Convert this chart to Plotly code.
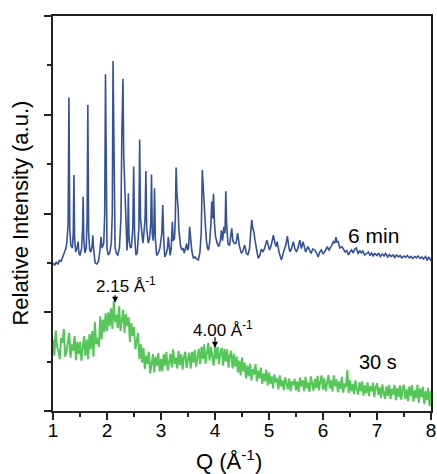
import numpy as np
import plotly.graph_objects as go

# ---- 6 min pattern (blue) : Q, intensity (offset) ----
blue_q = [1.00, 1.03, 1.06, 1.09, 1.12, 1.15, 1.18, 1.21, 1.24, 1.26, 1.28, 1.295, 1.31, 1.33, 1.36,
          1.375, 1.388, 1.40, 1.42, 1.445, 1.465, 1.48, 1.50, 1.53, 1.548, 1.558, 1.57, 1.59, 1.615,
          1.632, 1.645, 1.66, 1.68, 1.70, 1.725, 1.737, 1.75, 1.78, 1.81, 1.84, 1.87, 1.89, 1.91,
          1.94, 1.958, 1.972, 1.985, 2.00, 2.02, 2.05, 2.08, 2.098, 2.112, 2.125, 2.135, 2.15, 2.18,
          2.20, 2.23, 2.258, 2.275, 2.296, 2.31, 2.325, 2.34, 2.355, 2.37, 2.385, 2.395, 2.408,
          2.425, 2.45, 2.478, 2.494, 2.51, 2.535, 2.56, 2.59, 2.605, 2.62, 2.645, 2.665, 2.68, 2.705,
          2.72, 2.735, 2.765, 2.79, 2.81, 2.824, 2.838, 2.855, 2.868, 2.88, 2.895, 2.92, 2.95, 2.98,
          3.015, 3.032, 3.05, 3.07, 3.10, 3.12, 3.135, 3.15, 3.17, 3.19, 3.21, 3.225, 3.25, 3.265,
          3.28, 3.295, 3.315, 3.33, 3.36, 3.385, 3.41, 3.43, 3.455, 3.475, 3.49, 3.51, 3.53, 3.545,
          3.57, 3.60, 3.63, 3.66, 3.69, 3.72, 3.745, 3.765, 3.78, 3.80, 3.82, 3.84, 3.86, 3.88, 3.90,
          3.925, 3.94, 3.955, 3.972, 3.99, 4.01, 4.04, 4.07, 4.10, 4.12, 4.14, 4.165, 4.185, 4.20,
          4.215, 4.24, 4.27, 4.29, 4.31, 4.33, 4.36, 4.39, 4.42, 4.45, 4.49, 4.52, 4.55, 4.58, 4.61,
          4.64, 4.66, 4.68, 4.70, 4.72, 4.74, 4.77, 4.80, 4.83, 4.86, 4.89, 4.92, 4.96, 4.99, 5.01,
          5.04, 5.08, 5.11, 5.13, 5.15, 5.19, 5.23, 5.26, 5.28, 5.31, 5.34, 5.37, 5.39, 5.42, 5.45,
          5.48, 5.51, 5.54, 5.57, 5.60, 5.63, 5.66, 5.68, 5.72, 5.75, 5.78, 5.81, 5.85, 5.88, 5.91,
          5.94, 5.97, 6.00, 6.04, 6.08, 6.11, 6.13, 6.16, 6.19, 6.22, 6.24, 6.26, 6.28, 6.31, 6.35,
          6.38, 6.41, 6.44, 6.47, 6.50, 6.53, 6.56, 6.59, 6.62, 6.65, 6.68, 6.71, 6.74, 6.77, 6.81,
          6.84, 6.87, 6.90, 6.93, 6.96, 7.00, 7.03, 7.06, 7.10, 7.13, 7.16, 7.20, 7.23, 7.26, 7.30,
          7.33, 7.36, 7.40, 7.43, 7.46, 7.50, 7.53, 7.56, 7.60, 7.63, 7.66, 7.70, 7.73, 7.76, 7.80,
          7.83, 7.86, 7.90, 7.93, 7.96, 8.00]
blue_i = [3.00, 2.95, 3.02, 2.97, 3.05, 3.03, 3.12, 3.20, 3.30, 3.45, 3.80, 6.35, 3.70, 3.35, 3.30,
          3.60, 4.78, 3.50, 3.22, 3.30, 3.43, 3.20, 3.15, 3.30, 3.70, 4.34, 3.50, 3.20, 3.30,
          3.90, 6.20, 3.60, 3.26, 3.22, 3.35, 3.56, 3.30, 3.00, 2.98, 3.02, 3.25, 3.53, 3.30,
          3.40, 4.00, 6.82, 4.20, 3.30, 3.16, 3.20, 3.40, 4.00, 7.09, 5.18, 4.20, 3.30, 3.18,
          3.16, 3.30, 3.90, 5.60, 6.73, 5.18, 4.60, 4.37, 3.40, 3.25, 3.60, 4.41, 3.50,
          3.33, 3.30, 3.70, 4.95, 3.60, 3.16, 3.20, 3.70, 5.50, 3.90, 3.56, 3.40, 3.55, 3.90,
          4.86, 3.70, 3.40, 3.50, 3.80, 4.79, 3.60, 3.45, 3.70, 4.51, 3.50, 3.15, 3.20, 3.30,
          3.60, 4.17, 3.50, 3.12, 3.20, 3.30, 3.53, 3.30, 3.15, 3.30, 3.83, 3.45, 3.50, 3.90,
          4.93, 4.40, 4.14, 3.70, 3.35, 3.26, 3.30, 3.20, 3.30, 3.39, 3.25, 3.30, 3.73, 3.55,
          3.25, 3.09, 3.12, 3.08, 3.06, 3.20, 3.60, 4.88, 4.50, 4.27, 3.80, 3.46, 3.30, 3.26, 3.40,
          3.80, 4.24, 3.90, 4.40, 3.80, 3.53, 3.40, 3.33, 3.45, 3.66, 3.45, 3.73, 3.60, 4.45,
          3.80, 3.39, 3.35, 3.50, 3.70, 3.45, 3.39, 3.40, 3.60, 3.35, 3.19, 3.25, 3.36, 3.20, 3.16,
          3.30, 3.60, 3.87, 3.70, 3.62, 3.46, 3.25, 3.09, 3.15, 3.28, 3.22, 3.30, 3.46, 3.30, 3.26,
          3.35, 3.56, 3.40, 3.33, 3.43, 3.20, 3.06, 3.20, 3.26, 3.35, 3.54, 3.30, 3.22, 3.30, 3.43,
          3.28, 3.22, 3.32, 3.46, 3.29, 3.43, 3.30, 3.22, 3.33, 3.25, 3.19, 3.28, 3.26, 3.20, 3.12,
          3.22, 3.26, 3.18, 3.24, 3.33, 3.25, 3.30, 3.35, 3.43, 3.40, 3.52, 3.42, 3.43, 3.30, 3.33,
          3.28, 3.22, 3.25, 3.16, 3.22, 3.26, 3.20, 3.28, 3.30, 3.18, 3.25, 3.20, 3.24, 3.16, 3.19,
          3.22, 3.15, 3.20, 3.14, 3.19, 3.15, 3.20, 3.13, 3.18, 3.14, 3.19, 3.12, 3.17, 3.13, 3.16,
          3.11, 3.16, 3.12, 3.15, 3.10, 3.14, 3.11, 3.15, 3.10, 3.13, 3.09, 3.13, 3.10, 3.14, 3.09,
          3.12, 3.08, 3.13, 3.05, 3.12, 3.04]

# ---- 30 s pattern (green) : sampled every 0.025 A^-1 from 1.0 to 8.0 ----
green_q = np.round(np.arange(1.0, 8.0001, 0.025), 3)
green_i = [
    1.45, 1.12, 1.63, 1.30, 1.22, 1.05, 1.48, 1.38, 1.66, 1.10, 1.20, 1.42, 1.58, 1.08, 1.35, 1.22, 1.52, 1.03, 1.40, 1.15,
    1.40, 1.02, 1.30, 1.52, 1.12, 1.45, 1.05, 1.56, 1.25, 1.62, 1.10, 1.80, 1.35, 1.48, 1.30, 1.92, 1.45, 1.85, 1.60, 1.98,
    1.62, 2.00, 1.72, 2.08, 1.66, 2.22, 1.80, 1.95, 1.68, 2.12, 1.62, 1.90, 2.05, 1.58, 1.96, 1.72, 1.90, 1.40, 1.78, 1.52,
    1.70, 1.25, 1.45, 1.58, 1.05, 1.35, 0.98, 1.28, 0.85, 1.12, 0.95, 1.20, 0.76, 1.02, 1.15, 0.78, 1.10, 0.92, 1.18, 0.80,
    1.05, 0.80, 1.15, 0.92, 1.20, 0.82, 1.00, 1.16, 0.88, 1.25, 0.95, 1.08, 0.86, 1.22, 0.93, 1.15, 0.84, 1.10, 1.20, 0.87,
    1.05, 1.18, 0.86, 1.20, 0.98, 1.24, 0.90, 1.12, 1.26, 0.95, 1.30, 1.05, 1.35, 0.96, 1.22, 1.38, 1.02, 1.30, 1.10, 0.92,
    1.34, 1.05, 1.30, 0.95, 1.18, 1.28, 0.92, 1.26, 1.00, 1.25, 0.88, 1.12, 1.22, 0.86, 1.15, 0.90, 1.10, 0.78, 1.02, 0.72,
    1.08, 0.80, 0.98, 0.66, 0.92, 0.70, 0.96, 0.62, 0.85, 0.74, 0.95, 0.60, 0.82, 0.66, 0.88, 0.55, 0.76, 0.60, 0.84, 0.52,
    0.78, 0.55, 0.70, 0.46, 0.74, 0.58, 0.66, 0.44, 0.72, 0.50, 0.62, 0.42, 0.68, 0.55, 0.44, 0.66, 0.40, 0.60, 0.52, 0.65,
    0.42, 0.60, 0.38, 0.68, 0.50, 0.62, 0.40, 0.69, 0.46, 0.58, 0.39, 0.70, 0.52, 0.41, 0.65, 0.47, 0.71, 0.42, 0.60, 0.72,
    0.44, 0.66, 0.40, 0.58, 0.73, 0.46, 0.62, 0.39, 0.72, 0.50, 0.64, 0.38, 0.60, 0.45, 0.69, 0.37, 0.56, 0.48, 0.83, 0.36,
    0.62, 0.40, 0.55, 0.34, 0.62, 0.45, 0.33, 0.58, 0.40, 0.60, 0.31, 0.52, 0.36, 0.58, 0.30, 0.50, 0.40, 0.57, 0.28, 0.48,
    0.56, 0.32, 0.48, 0.26, 0.54, 0.36, 0.25, 0.50, 0.30, 0.53, 0.24, 0.45, 0.33, 0.53, 0.22, 0.47, 0.28, 0.52, 0.23, 0.46,
    0.53, 0.24, 0.44, 0.20, 0.50, 0.30, 0.52, 0.19, 0.42, 0.26, 0.53, 0.17, 0.46, 0.28, 0.49, 0.14, 0.40, 0.22, 0.47, 0.10,
    0.40]

x_ticks = [1, 2, 3, 4, 5, 6, 7, 8]
x_tick_labels = ["1", "2", "3", "4", "5", "6", "7", "8"]

BLUE = "#34519a"
GREEN = "#55c658"
FONT = "Arial, Liberation Sans, sans-serif"

fig = go.Figure()
fig.add_trace(go.Scatter(x=blue_q, y=blue_i, mode="lines",
                         line=dict(color=BLUE, width=1.6), showlegend=False))
fig.add_trace(go.Scatter(x=list(green_q), y=green_i, mode="lines",
                         line=dict(color=GREEN, width=2.0), showlegend=False))

# curve labels
fig.add_annotation(x=6.94, y=3.56, text="6 min", showarrow=False,
                   font=dict(size=21, color="black", family=FONT))
fig.add_annotation(x=7.02, y=0.99, text="30 s", showarrow=False,
                   font=dict(size=20, color="black", family=FONT))

# peak markers
fig.add_annotation(x=2.35, y=2.56, text="2.15 Å<sup>-1</sup>", showarrow=False,
                   font=dict(size=17, color="black", family=FONT))
fig.add_annotation(x=2.15, y=2.19, text="", showarrow=True, ax=0, ay=-9,
                   arrowhead=2, arrowsize=1, arrowwidth=1.2, arrowcolor="black")
fig.add_annotation(x=4.15, y=1.66, text="4.00 Å<sup>-1</sup>", showarrow=False,
                   font=dict(size=17, color="black", family=FONT))
fig.add_annotation(x=4.0, y=1.28, text="", showarrow=True, ax=0, ay=-12,
                   arrowhead=2, arrowsize=1, arrowwidth=1.2, arrowcolor="black")

# axis titles
fig.add_annotation(xref="paper", yref="paper", x=-0.087, y=0.50,
                   xanchor="center", yanchor="middle",
                   text="Relative Intensity (a.u.)", textangle=-90, showarrow=False,
                   font=dict(size=22, color="black", family=FONT))
fig.add_annotation(xref="paper", yref="paper", x=0.465, y=-0.124,
                   xanchor="center", yanchor="middle",
                   text="Q (Å<sup>-1</sup>)", showarrow=False,
                   font=dict(size=22, color="black", family=FONT))

fig.update_xaxes(range=[1, 8], tickvals=x_ticks, ticktext=x_tick_labels,
                 ticks="outside", ticklen=7, tickwidth=1.5, tickcolor="#222",
                 minor=dict(dtick=0.5, ticks="outside", ticklen=4, tickwidth=1.5, tickcolor="#222"),
                 showline=True, linecolor="#222", linewidth=1.6, mirror=True,
                 showgrid=False, zeroline=False, automargin=False,
                 ticklabeloverflow="allow", ticklabelstandoff=-6,
                 tickfont=dict(size=19, color="black", family=FONT))
fig.update_yaxes(range=[0, 8], tickvals=[0, 2, 4, 6, 8], showticklabels=False,
                 ticks="outside", ticklen=7, tickwidth=1.5, tickcolor="#222",
                 minor=dict(dtick=1, ticks="outside", ticklen=4, tickwidth=1.5, tickcolor="#222"),
                 showline=True, linecolor="#222", linewidth=1.6, mirror=True,
                 showgrid=False, zeroline=False, automargin=False)

fig.update_layout(width=437, height=474,
                  margin=dict(l=53, r=6, t=16, b=63, autoexpand=False),
                  plot_bgcolor="white", paper_bgcolor="white",
                  font=dict(family=FONT, color="black"))

fig.write_html("out.html", config={"displayModeBar": False},
               post_script="document.body.style.margin='0';document.body.style.padding='0';")
